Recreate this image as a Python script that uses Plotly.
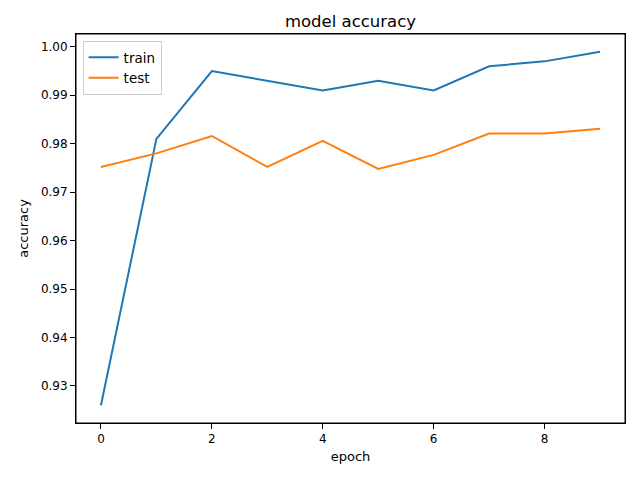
import plotly.graph_objects as go

epochs = list(range(10))
train_acc = [0.926, 0.981, 0.995, 0.993, 0.991, 0.993, 0.991, 0.996, 0.997, 0.999]
test_acc = [0.9752, 0.978, 0.9816, 0.9752, 0.9806, 0.9748, 0.9777, 0.9821, 0.9821, 0.9831]
y_ticks = [0.93, 0.94, 0.95, 0.96, 0.97, 0.98, 0.99, 1.00]
y_tick_text = ["0.93", "0.94", "0.95", "0.96", "0.97", "0.98", "0.99", "1.00"]
x_ticks = [0, 2, 4, 6, 8]

fig = go.Figure()
fig.add_trace(go.Scatter(x=epochs, y=train_acc, mode="lines", name="train",
                         line=dict(color="#1f77b4", width=2)))
fig.add_trace(go.Scatter(x=epochs, y=test_acc, mode="lines", name="test",
                         line=dict(color="#ff7f0e", width=2)))

axis_common = dict(showline=True, linecolor="black", linewidth=1, mirror=True,
                   ticks="outside", ticklen=5, tickcolor="black", tickwidth=1,
                   showgrid=False, zeroline=False,
                   tickfont=dict(family="DejaVu Sans", size=12, color="black"))

fig.update_layout(
    width=632, height=472,
    paper_bgcolor="white", plot_bgcolor="white",
    margin=dict(l=68, r=15, t=26, b=57),
    title=dict(text="model accuracy", x=0.5, xanchor="center", y=1 - 13 / 472, yanchor="middle",
               xref="paper",
               font=dict(family="DejaVu Sans", size=16.5, color="black")),
    font=dict(family="DejaVu Sans", size=12, color="black"),
    legend=dict(x=0.012, y=0.982, xanchor="left", yanchor="top",
                bgcolor="rgba(255,255,255,0.8)", bordercolor="#cccccc", borderwidth=1,
                font=dict(family="DejaVu Sans", size=13.5, color="black")),
    showlegend=True,
    shapes=[dict(type="rect", xref="paper", yref="paper", x0=0, y0=0, x1=1, y1=1,
                 line=dict(color="black", width=1), fillcolor="rgba(0,0,0,0)", layer="above")],
)
fig.update_xaxes(range=[-0.45, 9.45], tickvals=x_ticks,
                 title=dict(text="epoch", font=dict(family="DejaVu Sans", size=13), standoff=6),
                 **axis_common)
fig.update_yaxes(range=[0.92235, 1.00265], tickvals=y_ticks, ticktext=y_tick_text,
                 title=dict(text="accuracy", font=dict(family="DejaVu Sans", size=13), standoff=9),
                 **axis_common)

fig.write_html("out.html")
